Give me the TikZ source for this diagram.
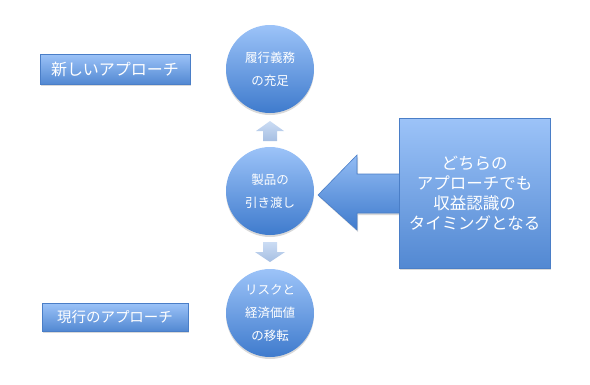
\documentclass[tikz,border=0pt]{standalone}
\usepackage{fontspec}
\setmainfont{Noto Sans CJK JP}
\usetikzlibrary{shadows}
\definecolor{topblue}{HTML}{9CC3F8}
\definecolor{botblue}{HTML}{3F7BCD}
\definecolor{edgeblue}{HTML}{4A7EC7}
\definecolor{lighttop}{HTML}{CBDCF4}
\definecolor{lightbot}{HTML}{A6BFE2}
\begin{document}
\begin{tikzpicture}[x=1pt,y=-1pt,
  bubble/.style={circle, minimum size=88pt, inner sep=0pt, top color=topblue, bottom color=botblue,
    draw=none, text=white, font=\fontsize{12.5}{23}\selectfont, align=center,
    drop shadow={shadow xshift=0pt, shadow yshift=-2pt, opacity=0.3}},
  labelbox/.style={rectangle, inner sep=0pt, top color=topblue, bottom color=botblue!90!white,
    draw=edgeblue, line width=0.6pt, text=white, align=center,
    drop shadow={shadow xshift=1pt, shadow yshift=-2pt, opacity=0.3}},
  smallarrow/.style={top color=lighttop, bottom color=lightbot, draw=none},
  bigarrow/.style={top color=topblue!90!botblue, bottom color=botblue, draw=edgeblue, line width=0.6pt,
    drop shadow={shadow xshift=1pt, shadow yshift=-2pt, opacity=0.3}}
]
\useasboundingbox (0,0) rectangle (590,384);

% left labels
\node[labelbox, minimum width=150pt, minimum height=30pt, font=\fontsize{16}{18}\selectfont] (newap) at (115,69) {新しいアプローチ};
\node[labelbox, minimum width=146pt, minimum height=28pt, font=\fontsize{14.5}{17}\selectfont] (curap) at (115,317) {現行のアプローチ};

% circles
\node[bubble] (c1) at (270,69) {履行義務\\の充足};
\node[bubble] (c2) at (270,191) {製品の\\引き渡し};
\node[bubble] (c3) at (270,313) {リスクと\\経済価値\\の移転};

% small block arrows
\path[smallarrow] (270,121) -- (284,131) -- (277,131) -- (277,141) -- (263,141) -- (263,131) -- (256,131) -- cycle;
\path[smallarrow] (263,242) -- (277,242) -- (277,252) -- (285,252) -- (270,262) -- (255,252) -- (263,252) -- cycle;

% big block arrow
\coordinate (tip) at (318,195);
\path[bigarrow] (tip) -- (357,155) -- (357,174) -- (402,174) -- (402,213) -- (357,213) -- (357,230) -- cycle;

% big box
\node[labelbox, minimum width=151pt, minimum height=150pt, font=\fontsize{16.5}{20}\selectfont] (box) at (474.5,193)
  {どちらの\\アプローチでも\\収益認識の\\タイミングとなる};
\end{tikzpicture}
\end{document}
